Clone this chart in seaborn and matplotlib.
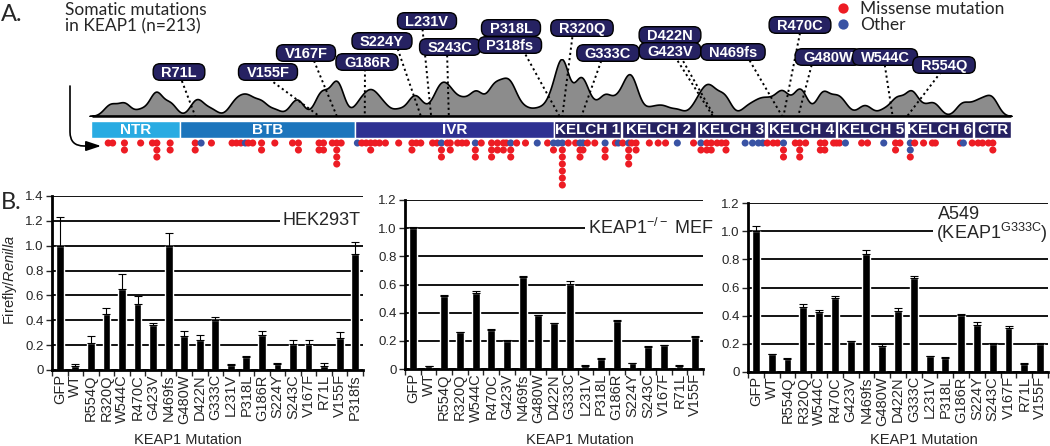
import re
import numpy as np
import pandas as pd
import matplotlib
matplotlib.use("Agg")
import matplotlib.pyplot as plt
import matplotlib.transforms as mtransforms
from matplotlib.patches import FancyBboxPatch
import seaborn as sns

# ---------------- Panel A data ----------------
domain_names = ["NTR", "BTB", "IVR", "KELCH 1", "KELCH 2", "KELCH 3",
                "KELCH 4", "KELCH 5", "KELCH 6", "CTR"]
domain_start = [1, 61, 180, 315, 361, 412, 459, 507, 554, 600]
domain_end = [60, 179, 314, 359, 410, 457, 505, 552, 598, 624]
domain_colors = ["#29abe2", "#1c75bc", "#2e3192", "#262262", "#262262",
                 "#262262", "#262262", "#262262", "#262262", "#262262"]

# mutation stacks: amino-acid position and the mutation types (top to bottom)
# M = missense mutation, O = other
stack_pos = [12, 15, 23, 34, 42, 45, 54,
             71, 75, 82, 96, 99, 102, 105, 107, 110, 116, 125, 137, 141,
             155, 158, 164, 167, 170,
             181, 184, 187, 190, 193, 196, 200, 209, 218, 221, 224, 232, 235,
             238, 242, 244, 249, 252, 255, 261, 265, 272, 276, 280, 282, 285,
             289, 295, 303, 310, 314,
             317, 320, 324, 329, 332, 334, 337, 342, 349, 356, 358,
             361, 365, 367, 370, 379, 385, 390, 398, 409,
             414, 418, 421, 425, 428, 431, 444, 449, 453, 456,
             459, 463, 466, 470, 478, 481, 485, 495, 498, 504, 506, 508, 512,
             523, 527, 538, 546, 549,
             556, 559, 565, 571, 573, 590, 592,
             598, 602, 605, 609, 612]
stack_types = ["M", "M", "MM", "M", "M", "MMM", "MM",
               "MM", "O", "M", "M", "M", "M", "O", "M", "M", "MM", "M", "M", "MM",
               "MM", "MM", "M", "MMMM", "M",
               "O", "M", "M", "MM", "M", "M", "M", "M", "MM", "M", "M", "M", "M",
               "OMM", "M", "MM", "M", "M", "M", "OMM", "M", "MMM", "MM", "MM", "M", "OMM",
               "M", "M", "O", "M", "OM",
               "O", "OMMMMMM", "M", "M", "OMM", "OM", "M", "M", "OMM", "M", "O",
               "M", "OMMM", "M", "MM", "M", "M", "M", "O", "M",
               "OM", "MM", "MM", "M", "M", "MM", "O", "O", "O", "O",
               "M", "M", "M", "OMM", "M", "MMM", "M", "MM", "MM", "M", "M", "M", "O",
               "M", "M", "O", "MM", "M",
               "OOM", "M", "M", "M", "M", "M", "O",
               "M", "M", "M", "M", "MM"]

label_texts = ["R71L", "V155F", "V167F", "G186R", "S224Y", "L231V", "S243C",
               "P318L", "P318fs", "R320Q", "G333C", "D422N", "G423V",
               "N469fs", "R470C", "G480W", "W544C", "R554Q"]

# ---------------- Panel B data ----------------
mutations = ["GFP", "WT", "R554Q", "R320Q", "W544C", "R470C", "G423V", "N469fs",
             "G480W", "D422N", "G333C", "L231V", "P318L", "G186R", "S224Y",
             "S243C", "V167F", "R71L", "V155F", "P318fs"]
hek_vals = [1.0, 0.035, 0.22, 0.447, 0.65, 0.53, 0.363, 1.0, 0.27, 0.242, 0.40,
            0.043, 0.108, 0.28, 0.048, 0.213, 0.21, 0.03, 0.26, 0.934]
hek_err = [0.23, 0.01, 0.055, 0.048, 0.123, 0.062, 0.014, 0.099, 0.04, 0.043,
           0.025, 0.005, 0.008, 0.032, 0.006, 0.027, 0.03, 0.03, 0.045, 0.094]
mef_vals = [1.0, 0.021, 0.518, 0.26, 0.537, 0.28, 0.2, 0.65, 0.38, 0.324, 0.603,
            0.024, 0.073, 0.34, 0.04, 0.158, 0.168, 0.024, 0.23]
mef_err = [0.01, 0.003, 0.005, 0.005, 0.02, 0.005, 0.003, 0.01, 0.005, 0.005,
           0.022, 0.003, 0.003, 0.005, 0.003, 0.003, 0.005, 0.003, 0.005]
a549_vals = [1.0, 0.125, 0.095, 0.46, 0.428, 0.525, 0.22, 0.84, 0.187, 0.433,
             0.67, 0.114, 0.102, 0.407, 0.336, 0.2, 0.312, 0.06, 0.2]
a549_err = [0.035, 0.003, 0.003, 0.025, 0.01, 0.017, 0.003, 0.029, 0.013, 0.024,
            0.009, 0.003, 0.003, 0.003, 0.017, 0.003, 0.012, 0.003, 0.003]

# ---------------- style ----------------
sns.set_style("white")
plt.rcParams["font.family"] = ["Liberation Sans", "DejaVu Sans"]
plt.rcParams["mathtext.fontset"] = "custom"
plt.rcParams["mathtext.rm"] = "Liberation Sans"
plt.rcParams["mathtext.it"] = "Liberation Sans:italic"
plt.rcParams["mathtext.bf"] = "Liberation Sans:bold"
AFONT = ["Lato", "DejaVu Sans"]
NAVY = "#262262"
RED = "#ed1c24"
BLUE = "#3953a4"

W, H = 1050, 446
fig = plt.figure(figsize=(W / 100, H / 100), dpi=100)


def fr(l, t, r, b):
    return [l / W, 1 - b / H, (r - l) / W, (b - t) / H]


PX0, PXPERAA = 92.0, 1.4744


def px2aa(x):
    return (x - PX0) / PXPERAA + 1


XL = (px2aa(0), px2aa(W))

# ---------------- Panel A ----------------
all_pos = []
rows = []
for p, t in zip(stack_pos, stack_types):
    for i, ch in enumerate(t):
        all_pos.append(p)
        rows.append({"pos": p, "row": 143 + 7 * i,
                     "type": "Missense mutation" if ch == "M" else "Other"})
dots = pd.DataFrame(rows)

ax_d = fig.add_axes(fr(0, 59, W, 116))
sns.kdeplot(x=np.array(all_pos, dtype=float), bw_adjust=0.075, gridsize=1500,
            fill=True, color="#8c8c8c", alpha=1, edgecolor="black",
            linewidth=1.2, ax=ax_d)
dens_top = max(p.vertices[:, 1].max() for c in ax_d.collections for p in c.get_paths())
ax_d.set_xlim(XL)
ax_d.set_ylim(0, dens_top)
ax_d.axis("off")

ax_A = fig.add_axes(fr(0, 0, W, 190))
ax_A.set_xlim(XL)
ax_A.set_ylim(190, 0)
ax_A.axis("off")

# baseline
ax_A.hlines(116, 1, 624, color="black", lw=1.8, zorder=2)

# domains
starts = np.array(domain_start, dtype=float)
ends = np.array(domain_end, dtype=float)
ax_A.barh(y=129.5, width=ends - starts + 1, left=starts - 0.5, height=16.5,
          color=domain_colors, edgecolor="white", linewidth=1.0, zorder=2)
for name, s, e in zip(domain_names, starts, ends):
    ax_A.text((s + e) / 2, 130, name, ha="center", va="center", color="white",
              fontweight="bold", fontsize=11, zorder=3)

# mutation dots
sns.scatterplot(data=dots, x="pos", y="row", hue="type",
                palette={"Missense mutation": RED, "Other": BLUE},
                hue_order=["Missense mutation", "Other"],
                s=26, linewidth=0, ax=ax_A, zorder=4)
ax_A.set_xlim(XL)
ax_A.set_ylim(190, 0)
ax_A.axis("off")
handles, labels = ax_A.get_legend_handles_labels()
keep = [(h, l) for h, l in zip(handles, labels) if l in ("Missense mutation", "Other")]
ax_A.legend([k[0] for k in keep], [k[1] for k in keep], loc="upper left",
            bbox_to_anchor=(834 / W, 1 - 1 / H), bbox_transform=fig.transFigure,
            frameon=False, markerscale=1.45, handletextpad=0.5,
            labelspacing=0.02, borderpad=0, borderaxespad=0,
            handlelength=1.0, prop={"family": AFONT, "size": 12.5})

# arrow
ax_A.annotate("", xy=(px2aa(101), 146), xytext=(px2aa(70), 86),
              arrowprops=dict(arrowstyle="-|>,head_length=0.9,head_width=0.3",
                              connectionstyle="angle,angleA=-90,angleB=180,rad=14",
                              color="black", lw=1.2, shrinkA=0, shrinkB=0))

# labels with leader lines: (centre x, centre y, line start x, line start y)
label_layout = {
    "R71L": (179, 72, 180, 76), "V155F": (268, 72, 265, 76),
    "V167F": (306, 53, 312, 56), "G186R": (367, 62, 365, 64),
    "S224Y": (382, 41, 396, 44), "L231V": (427, 21, 422, 24),
    "S243C": (450, 47, 447, 50), "P318L": (511, 28, None, None),
    "P318fs": (510, 45, 523, 50), "R320Q": (582, 28, 573, 32),
    "G333C": (608, 53, 603, 56), "D422N": (670, 35, 672, 52),
    "G423V": (670, 51, 678, 52), "N469fs": (733, 52, 747, 56),
    "R470C": (800, 25, 801, 28), "G480W": (828, 57, 813, 60),
    "W544C": (885, 57, 884, 60), "R554Q": (944, 65, 944, 68),
}
texts = []
for lab in label_texts:
    cx, cy, sx, sy = label_layout[lab]
    aa = int(re.findall(r"\d+", lab)[0])
    if sx is not None:
        ax_A.plot([px2aa(sx), aa], [sy, 116], color="black",
                  ls=(0, (1.1, 1.6)), lw=1.4, zorder=3)
    t = ax_A.text(px2aa(cx), cy + 5.2, lab, ha="center", va="baseline",
                  color="white", fontweight="bold", fontsize=10.5, zorder=8)
    texts.append((t, cy))

ax_A.text(px2aa(1), 21, "A.", fontsize=17, family=AFONT, ha="left", va="baseline")
ax_A.text(px2aa(65), 2, "Somatic mutations\nin KEAP1 (n=213)", fontsize=12.5,
          family=AFONT, ha="left", va="top", linespacing=1.05)

# ---------------- Panel B ----------------
panels = [
    (fr(52, 196, 363, 370), mutations, hek_vals, hek_err, 1.4),
    (fr(405, 200, 703, 369), mutations[:19], mef_vals, mef_err, 1.2),
    (fr(748, 203, 1048, 372), mutations[:19], a549_vals, a549_err, 1.2),
]
axes_b = []
for rect, names, vals, errs, top in panels:
    ax = fig.add_axes(rect)
    n = len(names)
    df = pd.DataFrame({"mutation": names, "value": vals})
    sns.barplot(data=df, x="mutation", y="value", color="black", saturation=1,
                width=0.5, errorbar=None, ax=ax, zorder=2)
    ax.errorbar(np.arange(n), vals, yerr=[np.zeros(n), errs], fmt="none",
                ecolor="black", elinewidth=0.8, capsize=2.6, capthick=0.8, zorder=3)
    ax.set_xlim(-0.5, n - 0.5)
    ax.set_ylim(0, top)
    yt = np.round(np.arange(0, top + 0.01, 0.2), 1)
    ax.set_yticks(yt)
    ax.set_yticklabels(["0"] + [f"{v:.1f}" for v in yt[1:]])
    ax.set_xticks(np.arange(-0.5, n, 1.0), minor=True)
    ax.yaxis.grid(True, color="black", lw=1.3, ls="-")
    ax.xaxis.grid(False)
    ax.set_axisbelow(True)
    ax.set_xlabel("")
    ax.set_ylabel("")
    ax.tick_params(axis="x", which="major", length=0, labelsize=10.5,
                   labelrotation=90, pad=3)
    ax.tick_params(axis="x", which="minor", length=4, width=1, direction="out",
                   bottom=True)
    ax.tick_params(axis="y", length=4, width=1, direction="out", labelsize=9.5,
                   pad=2, left=True)
    for sp in ("top", "right"):
        ax.spines[sp].set_visible(False)
    for sp in ("left", "bottom"):
        ax.spines[sp].set_linewidth(2)
        ax.spines[sp].set_color("black")
    axes_b.append(ax)

ax1, ax2, ax3 = axes_b
ax1.text((283 - 52) / 311, 1.2, "HEK293T", transform=ax1.get_yaxis_transform(),
         fontsize=13, ha="left", va="center", zorder=5,
         bbox=dict(fc="white", ec="none", pad=2))
ax2.text((588 - 405) / 298, 1.0, "KEAP1$^{-/-}$ MEF", transform=ax2.get_yaxis_transform(),
         fontsize=13, ha="left", va="center", zorder=5,
         bbox=dict(fc="white", ec="none", pad=2))
ax3.text((938 - 748) / 300, 1.12, "A549", transform=ax3.get_yaxis_transform(),
         fontsize=13, ha="left", va="center", zorder=5)
ax3.text((936 - 748) / 300, 0.985, "(KEAP1$^{\\mathrm{G333C}}$)",
         transform=ax3.get_yaxis_transform(),
         fontsize=13, ha="left", va="center", zorder=5,
         bbox=dict(fc="white", ec="none", pad=2))

for cxp in [188, 580, 924]:
    fig.text(cxp / W, 1 - 440 / H, "KEAP1 Mutation", fontsize=10.5,
             ha="center", va="center")

fig.text(10 / W, 1 - 280 / H, "Firefly/$\\mathit{Renilla}$", rotation=90,
         fontsize=10.5, ha="center", va="center")
fig.text(1 / W, 1 - 209 / H, "B.", fontsize=17, family=AFONT, ha="left",
         va="baseline")

# ---------------- label boxes (sized to the text) ----------------
fig.canvas.draw()
renderer = fig.canvas.get_renderer()
for t, cy in texts:
    bb = t.get_window_extent(renderer)
    ycd = H - cy
    box = FancyBboxPatch((bb.x0 - 8, ycd - 8.3), bb.width + 16, 16.6,
                         boxstyle="round,pad=0,rounding_size=7",
                         fc=NAVY, ec="black", lw=1.0,
                         transform=mtransforms.IdentityTransform(),
                         zorder=7, clip_on=False)
    ax_A.add_patch(box)

fig.savefig("out.png", dpi=100)
